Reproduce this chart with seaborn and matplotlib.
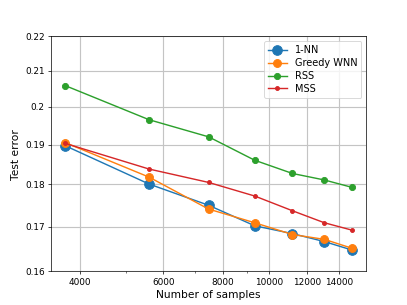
import matplotlib
matplotlib.use("Agg")
import matplotlib.pyplot as plt
import seaborn as sns
from matplotlib.ticker import NullFormatter

# number of training samples
n_samples = [3733, 5600, 7467, 9333, 11200, 13067, 14933]

# test error per method
err_1nn = [0.1897, 0.1801, 0.1750, 0.1702, 0.1684, 0.1666, 0.1647]
err_greedy = [0.1905, 0.1818, 0.1741, 0.1709, 0.1682, 0.1671, 0.1651]
err_rss = [0.2058, 0.1965, 0.1920, 0.1860, 0.1827, 0.1811, 0.1793]
err_mss = [0.1903, 0.1838, 0.1805, 0.1772, 0.1737, 0.1709, 0.1692]

labels = ["1-NN", "Greedy WNN", "RSS", "MSS"]
pal = ["#1f77b4", "#ff7f0e", "#2ca02c", "#d62728"]
msizes = [11, 9, 7, 4.5]

xticks = [4000, 6000, 8000, 10000, 12000, 14000]
yticks = [0.16, 0.17, 0.18, 0.19, 0.2, 0.21, 0.22]
ytick_labels = ["0.16", "0.17", "0.18", "0.19", "0.2", "0.21", "0.22"]

fig, ax = plt.subplots(figsize=(6.4, 4.8), dpi=63.6)

for errs, lab, col, ms in zip([err_1nn, err_greedy, err_rss, err_mss], labels, pal, msizes):
    sns.lineplot(x=n_samples, y=errs, marker="o", markersize=ms, color=col,
                 markeredgecolor=col, markeredgewidth=1, linewidth=1.6, label=lab, ax=ax)

ax.set_xscale("log")
ax.set_yscale("log")
ax.set_xticks(xticks)
ax.set_xticklabels([str(t) for t in xticks])
ax.xaxis.set_minor_formatter(NullFormatter())
ax.set_yticks(yticks)
ax.set_yticklabels(ytick_labels)
ax.yaxis.set_minor_formatter(NullFormatter())
ax.set_ylim(0.16, 0.22)
ax.grid(True, which="major", color="#c4c4c4", linewidth=1.3)
ax.set_xlabel("Number of samples", fontsize=12)
ax.set_ylabel("Test error", fontsize=12)
ax.legend(loc="upper right", fontsize=11, labelspacing=0.3)

fig.savefig("out.png", dpi=63.6)
